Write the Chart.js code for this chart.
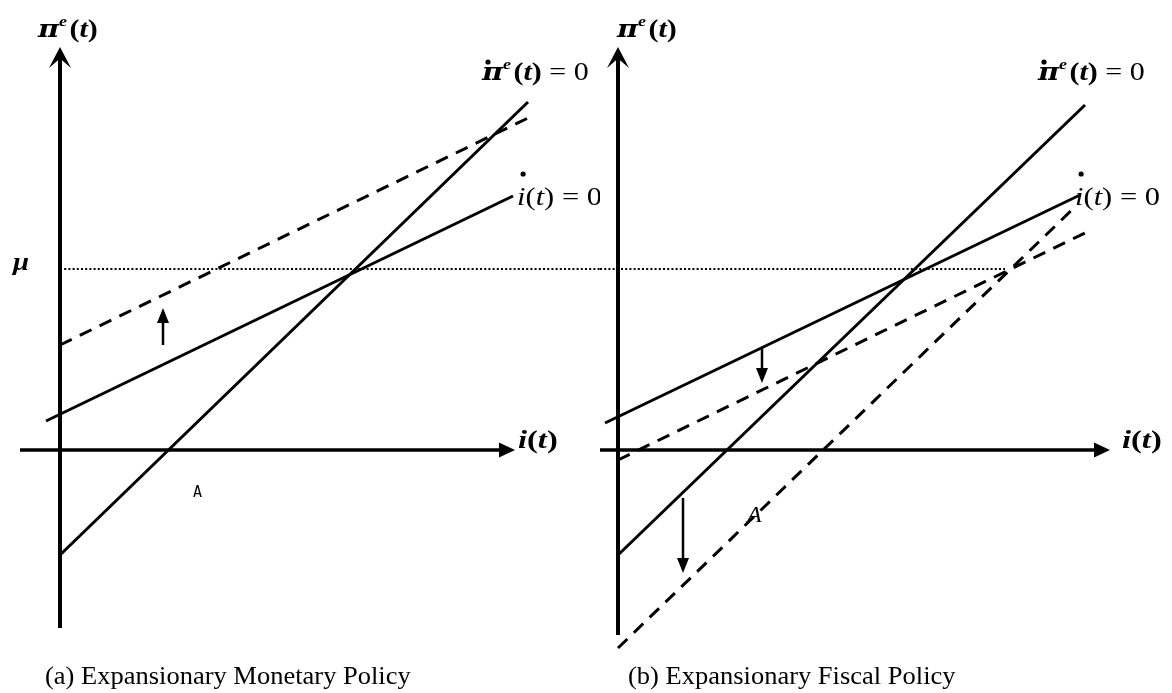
<!DOCTYPE html>
<html><head><meta charset="utf-8">
<script src="https://cdn.jsdelivr.net/npm/chart.js@4/dist/chart.umd.min.js"></script>
<style>
html,body{margin:0;padding:0;background:#fff;}
#wrap{position:relative;width:1172px;height:693px;display:flex;}
canvas{display:block;}
</style></head>
<body><div id="wrap"><canvas id="ca" width="600" height="693"></canvas><canvas id="cb" width="572" height="693"></canvas></div>
<script>
// ---- data (model units: i on x, expected inflation on y) ----
const muLevel = 18.1;
// panel (a) Expansionary Monetary Policy
const aIdotSolid   = [[-1.4, 2.9], [45.3, 25.4]];
const aPidotSolid  = [[0, -10.5], [46.8, 34.8]];
const aIdotDashed  = [[0, 10.5], [46.8, 33.2]];
const aShiftArrows = [[[10.3, 10.5], [10.3, 14.2]]];
// panel (b) Expansionary Fiscal Policy
const bIdotSolid   = [[-1.3, 2.7], [46.2, 25.5]];
const bPidotSolid  = [[0, -10.5], [46.7, 34.5]];
const bIdotDashed  = [[0, -1.0], [46.9, 21.8]];
const bPidotDashed = [[0, -19.8], [45.9, 24.5]];
const bShiftArrows = [[[14.4, 10.3], [14.4, 6.7]], [[6.5, -4.8], [6.5, -12.3]]];
const bMuEnd = 38.7;
// axes extents
const aAxisX = [-4, 45.5], aAxisY = [-17.8, 40.3];
const bAxisX = [-4, 49.2], bAxisY = [-18.5, 40.3];
// texts
const captions = ['(a) Expansionary Monetary Policy', '(b) Expansionary Fiscal Policy'];

const pts = a => a.map(p => ({x: p[0], y: p[1]}));
const SERIF = '"Liberation Serif","DejaVu Serif",serif';
const PIF = '"DejaVu Serif","Liberation Serif",serif';

function lineDs(data, opts) {
  return Object.assign({data: pts(data), showLine: true, pointRadius: 0, borderColor: '#000',
    borderWidth: 3, fill: false, tension: 0, borderCapStyle: 'butt'}, opts || {});
}

function drawRuns(ctx, x, y, sx, runs) {
  ctx.save(); ctx.translate(x, y); ctx.scale(sx, 1);
  let cx = 0;
  for (const r of runs) {
    ctx.font = r.f;
    ctx.fillText(r.t, cx, (r.dy || 0));
    if (r.dot) { ctx.beginPath(); ctx.ellipse(cx + r.dot[0], r.dot[1], 2.6 / sx, 2.6, 0, 0, Math.PI * 2); ctx.fill(); }
    cx += ctx.measureText(r.t).width + (r.sp || 0);
  }
  ctx.restore();
}

function arrowHead(ctx, x1, y1, x2, y2, len, wid, chevron) {
  const ang = Math.atan2(y2 - y1, x2 - x1);
  ctx.save(); ctx.translate(x2, y2); ctx.rotate(ang);
  ctx.beginPath();
  if (chevron) {
    ctx.moveTo(0, 0); ctx.lineTo(-len, -wid / 2); ctx.lineTo(-len * 0.55, 0); ctx.lineTo(-len, wid / 2); ctx.closePath();
  } else {
    ctx.moveTo(0, 0); ctx.lineTo(-len, -wid / 2); ctx.lineTo(-len, wid / 2); ctx.closePath();
  }
  ctx.fill(); ctx.restore();
}

const decor = {
  id: 'decor',
  afterDatasetsDraw(chart, args, o) {
    const ctx = chart.ctx, xs = chart.scales.x, ys = chart.scales.y;
    const X = v => xs.getPixelForValue(v), Y = v => ys.getPixelForValue(v);
    ctx.save();
    ctx.fillStyle = '#000'; ctx.strokeStyle = '#000';
    // axis arrowheads
    arrowHead(ctx, X(0), Y(o.axisY[0]), X(0), Y(o.axisY[1]), 21, 22, true);
    arrowHead(ctx, X(o.axisX[0]), Y(0), X(o.axisX[1]), Y(0), 16, 15, false);
    // shift arrows
    ctx.lineWidth = 2.5;
    for (const s of o.shifts) {
      const x1 = X(s[0][0]), y1 = Y(s[0][1]), x2 = X(s[1][0]), y2 = Y(s[1][1]);
      const dir = Math.sign(y2 - y1);
      ctx.beginPath(); ctx.moveTo(x1, y1); ctx.lineTo(x2, y2 - dir * 10); ctx.stroke();
      arrowHead(ctx, x1, y1, x2, y2, 15, 12, false);
    }
    ctx.textBaseline = 'alphabetic';
    const BI = 'bold italic 25px ' + SERIF, B = 'bold 25px ' + SERIF, SUP = 'bold italic 15px ' + SERIF;
    const PI = 'bold italic 24px ' + PIF;
    // pi^e(t)
    drawRuns(ctx, X(o.piLab[0]), Y(o.piLab[1]), 1.2, [
      {t: 'π', f: PI}, {t: 'e', f: SUP, dy: -11, sp: 2}, {t: '(', f: B}, {t: 't', f: BI}, {t: ')', f: B}]);
    // pi-dot^e(t) = 0
    drawRuns(ctx, X(o.piDotLab[0]), Y(o.piDotLab[1]), 1.2, [
      {t: 'π', f: PI, dot: [5, -18]}, {t: 'e', f: SUP, dy: -11, sp: 2}, {t: '(', f: B}, {t: 't', f: BI}, {t: ')', f: B},
      {t: ' = 0', f: '25px ' + SERIF}]);
    // i-dot(t) = 0
    drawRuns(ctx, X(o.iDotLab[0]), Y(o.iDotLab[1]), 1.22, [
      {t: 'i', f: 'italic 25px ' + SERIF, dot: [5, -31]}, {t: '(', f: '25px ' + SERIF}, {t: 't', f: 'italic 25px ' + SERIF},
      {t: ')', f: '25px ' + SERIF}, {t: ' = 0', f: '25px ' + SERIF}]);
    // i(t)
    drawRuns(ctx, X(o.iLab[0]), Y(o.iLab[1]), 1.3, [
      {t: 'i', f: BI}, {t: '(', f: B}, {t: 't', f: BI}, {t: ')', f: B}]);
    if (o.muLab) drawRuns(ctx, X(o.muLab[0]), Y(o.muLab[1]), 1.15, [{t: 'μ', f: BI}]);
    // A
    ctx.font = o.aFont;
    ctx.fillText('A', X(o.aLab[0]), Y(o.aLab[1]));
    // caption
    drawRuns(ctx, X(o.capLab[0]), Y(o.capLab[1]), 1.06, [{t: o.caption, f: '25px ' + SERIF}]);
    ctx.restore();
  }
};

function baseOptions(xmin, xmax, dec) {
  return {
    responsive: false, animation: false, events: [],
    layout: {padding: 0},
    plugins: {legend: {display: false}, tooltip: {enabled: false}, title: {display: false}, decor: dec},
    scales: {
      x: {type: 'linear', min: xmin, max: xmax, display: false},
      y: {type: 'linear', min: -24.3, max: 45, display: false}
    }
  };
}

new Chart(document.getElementById('ca'), {
  type: 'scatter',
  data: {datasets: [
    lineDs([[0, muLevel], [54, muLevel]], {borderWidth: 2, borderDash: [2, 2.2]}),
    lineDs([[0, aAxisY[0]], [0, aAxisY[1] - 1]], {borderWidth: 4}),
    lineDs([[aAxisX[0], 0], [aAxisX[1] - 1, 0]], {borderWidth: 3.5}),
    lineDs(aIdotSolid),
    lineDs(aPidotSolid),
    lineDs(aIdotDashed, {borderDash: [13, 9]})
  ]},
  options: baseOptions(-6, 54, {
    axisX: aAxisX, axisY: aAxisY, shifts: aShiftArrows,
    piLab: [-2.2, 41.3], piDotLab: [42.2, 37.0], iDotLab: [45.7, 24.5], iLab: [45.8, 0.2], muLab: [-4.7, 18.0],
    aLab: [13.3, -4.7], aFont: '15px "DejaVu Sans Mono", monospace', caption: captions[0], capLab: [-1.5, -23.4]
  }),
  plugins: [decor]
});

new Chart(document.getElementById('cb'), {
  type: 'scatter',
  data: {datasets: [
    lineDs([[-1.8, muLevel], [bMuEnd, muLevel]], {borderWidth: 2, borderDash: [2, 2.2]}),
    lineDs([[0, bAxisY[0]], [0, bAxisY[1] - 1]], {borderWidth: 4}),
    lineDs([[bAxisX[0], 0], [bAxisX[1] - 1, 0]], {borderWidth: 3.5}),
    lineDs(bIdotSolid),
    lineDs(bPidotSolid),
    lineDs(bIdotDashed, {borderDash: [13, 9]}),
    lineDs(bPidotDashed, {borderDash: [13, 9]})
  ]},
  options: baseOptions(-1.8, 55.4, {
    axisX: bAxisX, axisY: bAxisY, shifts: bShiftArrows,
    piLab: [-0.1, 41.3], piDotLab: [42.0, 37.0], iDotLab: [45.7, 24.5], iLab: [50.4, 0.2], muLab: null,
    aLab: [12.9, -7.2], aFont: 'italic 24px ' + SERIF, caption: captions[1], capLab: [1.0, -23.4]
  }),
  plugins: [decor]
});
</script>
</body></html>
